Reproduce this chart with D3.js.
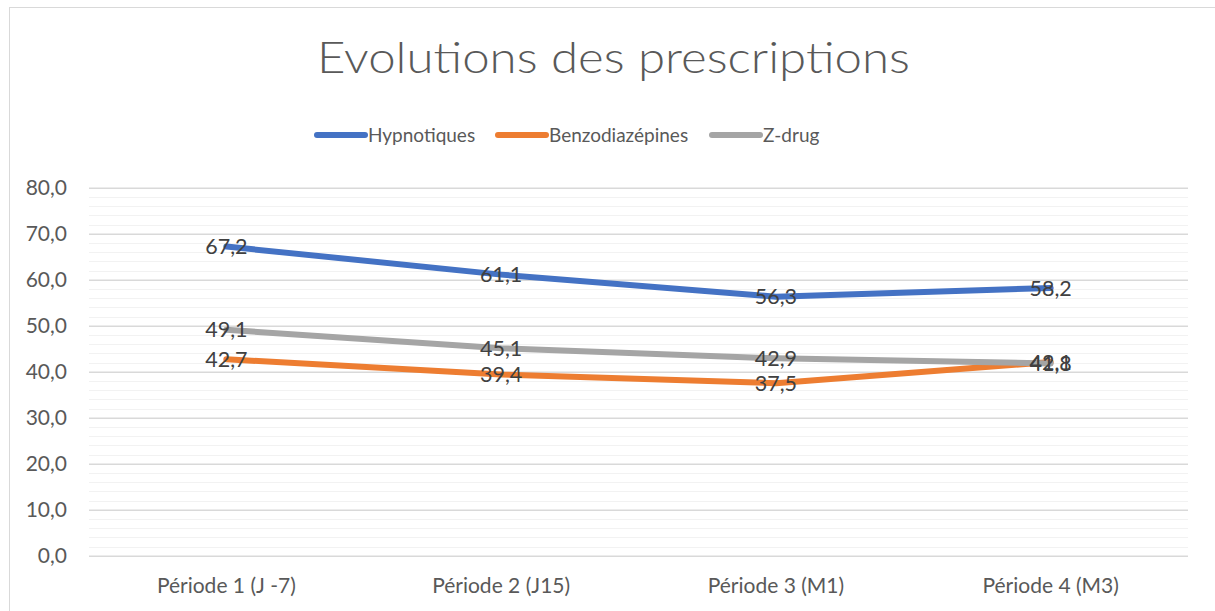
<!DOCTYPE html>
<html>
<head>
<meta charset="utf-8">
<script src="https://cdn.jsdelivr.net/npm/d3@7"></script>
<style>
  html, body { margin: 0; padding: 0; background: #fff; }
  svg { display: block; }
  text { font-family: Lato, "Open Sans", sans-serif; }
</style>
</head>
<body>
<svg id="chart" width="1215" height="611"></svg>
<script>
const categories = ["Période 1 (J -7)", "Période 2 (J15)", "Période 3 (M1)", "Période 4 (M3)"];
const seriesNames = ["Hypnotiques", "Benzodiazépines", "Z-drug"];
const hypnotiques = [67.2, 61.1, 56.3, 58.2];
const benzodiazepines = [42.7, 39.4, 37.5, 42.1];
const zdrug = [49.1, 45.1, 42.9, 41.8];
const yTicks = [0, 10, 20, 30, 40, 50, 60, 70, 80];
const colors = ["#4472C4", "#ED7D31", "#A5A5A5"];
const title = "Evolutions des prescriptions";

const series = [hypnotiques, benzodiazepines, zdrug].map((v, i) => ({ name: seriesNames[i], values: v, color: colors[i] }));

const svg = d3.select("#chart");
const W = 1215, H = 611;
const plot = { left: 89, right: 1188, top: 187.7, bottom: 555.7 };

// chart border
svg.append("rect").attr("x", 9.5).attr("y", 7.5).attr("width", W + 10).attr("height", H + 10)
  .attr("fill", "#fff").attr("stroke", "#d9d9d9").attr("stroke-width", 1);

const x = d3.scaleBand().domain(categories).range([plot.left, plot.right]).padding(0);
const y = d3.scaleLinear().domain([0, 80]).range([plot.bottom, plot.top]);

// minor gridlines
const minor = d3.range(0, 80.001, 2).filter(v => v % 10 !== 0);
svg.append("g").selectAll("line").data(minor).join("line")
  .attr("x1", plot.left).attr("x2", plot.right)
  .attr("y1", d => Math.round(y(d)) + 0.5).attr("y2", d => Math.round(y(d)) + 0.5)
  .attr("stroke", "#f2f2f2").attr("stroke-width", 1);

// major gridlines + y axis labels
const yAxis = d3.axisLeft(y).tickValues(yTicks)
  .tickFormat(d => d3.format(".1f")(d).replace(".", ","))
  .tickSize(-(plot.right - plot.left)).tickPadding(22);
const gy = svg.append("g").attr("transform", `translate(${plot.left},0)`).call(yAxis);
gy.select(".domain").remove();
gy.selectAll(".tick line").attr("stroke", "#d9d9d9").attr("stroke-width", 1.5);
gy.selectAll(".tick text").attr("fill", "#595959").attr("font-size", 21)
  .attr("font-family", "Lato, sans-serif");

// x axis labels
const xAxis = d3.axisBottom(x).tickSize(0).tickPadding(22);
const gx = svg.append("g").attr("transform", `translate(0,${plot.bottom})`).call(xAxis);
gx.select(".domain").remove();
gx.selectAll(".tick text").attr("fill", "#595959").attr("font-size", 21)
  .attr("font-family", "Lato, sans-serif");

// lines
const line = d3.line().x((d, i) => x(categories[i]) + x.bandwidth() / 2).y(d => y(d));
svg.append("g").selectAll("path").data(series).join("path")
  .attr("d", d => line(d.values))
  .attr("fill", "none").attr("stroke", d => d.color).attr("stroke-width", 6)
  .attr("stroke-linecap", "round").attr("stroke-linejoin", "round");

// data labels
const lg = svg.append("g");
series.forEach(s => {
  lg.selectAll(null).data(s.values).join("text")
    .attr("x", (d, i) => x(categories[i]) + x.bandwidth() / 2)
    .attr("y", d => y(d))
    .attr("dy", "0.35em")
    .attr("text-anchor", "middle")
    .attr("fill", "#404040").attr("font-size", 21.5)
    .text(d => d3.format(".1f")(d).replace(".", ","));
});

// title
svg.append("text").attr("x", 613.5).attr("y", 73).attr("text-anchor", "middle")
  .attr("fill", "#595959").attr("font-size", 43).attr("font-weight", 300)
  .attr("textLength", 593).attr("lengthAdjust", "spacingAndGlyphs")
  .text(title);

// legend
const legendX = [317, 498, 712];
const leg = svg.append("g");
series.forEach((s, i) => {
  leg.append("line").attr("x1", legendX[i]).attr("x2", legendX[i] + 48)
    .attr("y1", 135).attr("y2", 135)
    .attr("stroke", s.color).attr("stroke-width", 6).attr("stroke-linecap", "round");
  leg.append("text").attr("x", legendX[i] + 51).attr("y", 135).attr("dy", "0.35em")
    .attr("fill", "#595959").attr("font-size", 19).text(s.name);
});
</script>
</body>
</html>
